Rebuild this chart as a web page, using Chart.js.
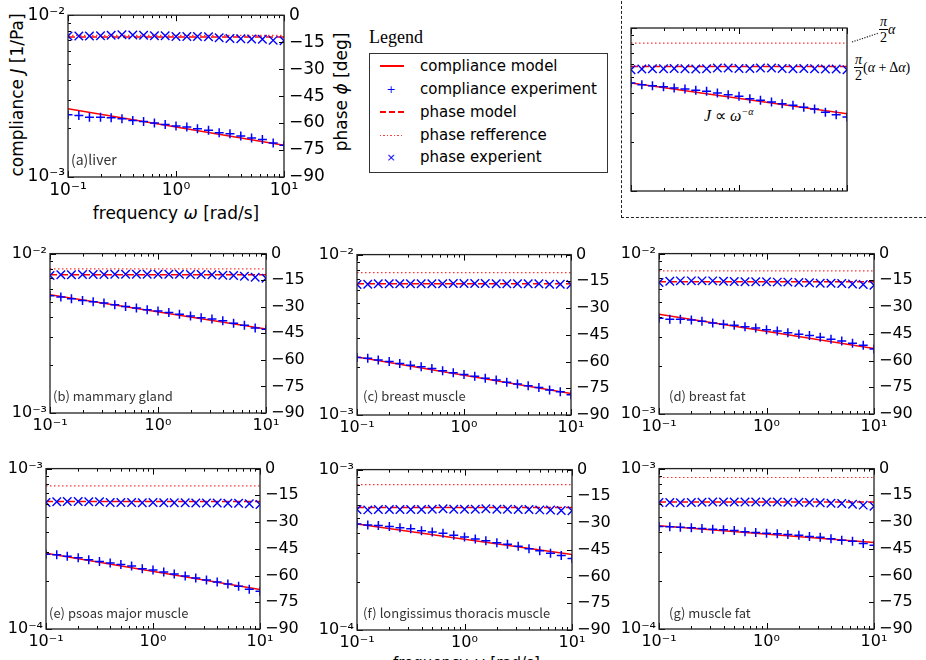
<!DOCTYPE html>
<html>
<head>
<meta charset="utf-8">
<title>compliance and phase of tissues</title>
<script src="https://cdn.jsdelivr.net/npm/chart.js@4.4.1/dist/chart.umd.min.js"></script>
<style>
  html, body { margin: 0; padding: 0; background: #fff; }
  body { position: relative; width: 926px; height: 660px; overflow: hidden; font-family: "DejaVu Sans", sans-serif; color: #000; }
  .panel { position: absolute; }
  .t { position: absolute; white-space: nowrap; line-height: 1; }
  .rot { transform: translate(-50%, -50%) rotate(-90deg); }
  .ctr { transform: translate(-50%, -50%); }
  .serif { font-family: "Liberation Serif", serif; }
  .frac { display: inline-block; vertical-align: middle; text-align: center; }
  .frac span { display: block; line-height: 1.1; }
  .frac .num { border-bottom: 1px solid #000; padding: 0 1px; }
  #box { position: absolute; left: 621px; top: -4px; width: 320px; height: 221px; border-left: 1.5px dashed #222; border-bottom: 1.5px dashed #222; }
  #legend { position: absolute; left: 369px; top: 53px; width: 239px; height: 120px; border: 1px solid #333; box-sizing: border-box; }
  .row { position: absolute; left: 0; height: 0; }
  .row .lbl { position: absolute; left: 50px; top: 0; transform: translateY(-50%); font-size: 15px; white-space: nowrap; line-height: 1; }
  .row .smp { position: absolute; left: 10px; width: 24px; }
  .row .mk { position: absolute; left: 21px; top: 0; transform: translate(-50%, -50%); color: #00f; font-size: 11px; line-height: 1; }
</style>
</head>
<body>

<!-- axis titles of (a) -->
<div class="t rot" style="left:17px; top:95px; font-size:17px;">compliance <i>J</i> [1/Pa]</div>
<div class="t rot" style="left:341px; top:92px; font-size:17px;">phase <i>ϕ</i> [deg]</div>
<div class="t ctr" style="left:176px; top:213px; font-size:17px;">frequency <i>ω</i> [rad/s]</div>
<div class="t" style="left:393px; top:656px; font-size:15px;">frequency <i>ω</i> [rad/s]</div>

<!-- legend -->
<div class="t serif" style="left:369px; top:28px; font-size:18px;">Legend</div>
<div id="legend">
  <div class="row" style="top:12px;"><div class="smp" style="top:-1px; height:1.6px; background:#ff0000;"></div><div class="lbl">compliance model</div></div>
  <div class="row" style="top:35px;"><div class="mk">+</div><div class="lbl">compliance experiment</div></div>
  <div class="row" style="top:58px;"><div class="smp" style="top:-1px; height:1.6px; background:repeating-linear-gradient(to right, #ff0000 0 6px, transparent 6px 9px);"></div><div class="lbl">phase model</div></div>
  <div class="row" style="top:81px;"><div class="smp" style="top:0; height:1px; background:repeating-linear-gradient(to right, #ff4040 0 1.5px, transparent 1.5px 3.5px);"></div><div class="lbl">phase refference</div></div>
  <div class="row" style="top:103px;"><div class="mk">×</div><div class="lbl">phase experient</div></div>
</div>

<!-- schematic inset frame and notes -->
<div id="box"></div>
<svg style="position:absolute; left:0; top:0;" width="926" height="660">
  <line x1="852" y1="42" x2="879" y2="33" stroke="#222" stroke-width="1.2" stroke-dasharray="1.2,1.4"/>
</svg>
<div class="t serif" style="left:879px; top:14px; font-size:14px;"><span class="frac"><span class="num"><i>π</i></span><span>2</span></span><i style="vertical-align:middle;">α</i></div>
<div class="t serif" style="left:854px; top:52px; font-size:14px;"><span class="frac"><span class="num"><i>π</i></span><span>2</span></span><span style="vertical-align:middle;">(<i>α</i> + Δ<i>α</i>)</span></div>
<div class="t serif" style="left:704px; top:107px; font-size:16px;"><i>J</i> ∝ <i>ω</i><sup style="font-size:10px;"><i>−α</i></sup></div>

<script>
// frequencies of the measurement [rad/s]
const FREQ = [0.1, 0.126, 0.158, 0.2, 0.251, 0.316, 0.398, 0.501, 0.631, 0.794, 1,
              1.26, 1.58, 2, 2.51, 3.16, 3.98, 5.01, 6.31, 7.94, 10];
const FREQ_RANGE = [0.1, 10];

// tick values
const FREQ_TICKS = [0.1, 0.2, 0.3, 0.4, 0.5, 0.6, 0.7, 0.8, 0.9, 1, 2, 3, 4, 5, 6, 7, 8, 9, 10];
const J_TICKS_HI = [0.001, 0.002, 0.003, 0.004, 0.005, 0.006, 0.007, 0.008, 0.009, 0.01];
const J_TICKS_LO = [0.0001, 0.0002, 0.0003, 0.0004, 0.0005, 0.0006, 0.0007, 0.0008, 0.0009, 0.001];
const PHASE_TICKS = [0, -15, -30, -45, -60, -75, -90];

// (a) liver
const liverModelJ = [2.638e-3, 1.572e-3];
const liverExpJ = [2.423e-3, 2.401e-3, 2.344e-3, 2.344e-3, 2.323e-3, 2.29e-3, 2.238e-3, 2.206e-3, 2.154e-3, 2.114e-3, 2.065e-3,
                   2.036e-3, 1.988e-3, 1.942e-3, 1.879e-3, 1.853e-3, 1.793e-3, 1.743e-3, 1.703e-3, 1.624e-3, 1.572e-3];
const liverModelPhase = -12.1;
const liverRefPhase = -11.2;
const liverExpPhase = [-11.6, -11.6, -11.6, -11.4, -11.2, -10.9, -11.0, -11.2, -11.4, -11.4, -11.8,
                       -11.8, -11.8, -12.0, -12.5, -12.9, -13.1, -13.3, -13.4, -14.0, -14.2];

// schematic inset
const schemModelJ = [4.599e-3, 2.980e-3];
const schemExpJ = [4.599e-3, 4.490e-3, 4.428e-3, 4.366e-3, 4.285e-3, 4.225e-3, 4.146e-3, 4.088e-3, 3.993e-3, 3.899e-3, 3.808e-3,
                   3.685e-3, 3.599e-3, 3.515e-3, 3.433e-3, 3.354e-3, 3.261e-3, 3.185e-3, 3.038e-3, 2.939e-3, 2.844e-3];
const schemModelPhase = -21.2;
const schemRefPhase = -8.3;
const schemExpPhase = [-23.0, -22.6, -22.5, -22.5, -22.3, -22.5, -22.6, -22.5, -22.1, -22.1, -22.3,
                       -22.3, -22.1, -22.1, -22.3, -22.5, -22.3, -22.5, -22.6, -22.6, -23.0];

// (b) mammary gland
const mammaryModelJ = [5.515e-3, 3.365e-3];
const mammaryExpJ = [5.436e-3, 5.333e-3, 5.207e-3, 5.084e-3, 4.988e-3, 4.893e-3, 4.777e-3, 4.664e-3, 4.553e-3, 4.445e-3, 4.361e-3,
                     4.278e-3, 4.157e-3, 4.058e-3, 3.962e-3, 3.886e-3, 3.794e-3, 3.652e-3, 3.548e-3, 3.414e-3, 3.350e-3];
const mammaryModelPhase = -12.0;
const mammaryRefPhase = -8.6;
const mammaryExpPhase = [-12.4, -12.0, -12.0, -11.8, -11.8, -11.8, -11.6, -11.6, -11.6, -11.6, -11.6,
                         -11.6, -11.6, -11.8, -11.8, -12.0, -12.2, -12.4, -12.8, -13.3, -13.9];

// (c) breast muscle
const bmuscleModelJ = [2.303e-3, 1.363e-3];
const bmuscleExpJ = [2.281e-3, 2.259e-3, 2.206e-3, 2.154e-3, 2.094e-3, 2.044e-3, 1.996e-3, 1.949e-3, 1.885e-3, 1.832e-3, 1.789e-3,
                     1.747e-3, 1.697e-3, 1.650e-3, 1.603e-3, 1.558e-3, 1.521e-3, 1.485e-3, 1.430e-3, 1.396e-3, 1.337e-3];
const bmuscleModelPhase = -16.4;
const bmuscleRefPhase = -10.1;
const bmuscleExpPhase = [-16.8, -16.6, -16.4, -16.4, -16.4, -16.4, -16.4, -16.4, -16.4, -16.2, -16.2,
                         -16.2, -16.2, -16.4, -16.4, -16.4, -16.4, -16.4, -16.6, -16.6, -16.8];

// (d) breast fat
const bfatModelJ = [4.180e-3, 2.557e-3];
const bfatExpJ = [3.948e-3, 3.892e-3, 3.892e-3, 3.855e-3, 3.782e-3, 3.693e-3, 3.622e-3, 3.571e-3, 3.503e-3, 3.437e-3, 3.356e-3,
                  3.293e-3, 3.216e-3, 3.140e-3, 3.081e-3, 3.008e-3, 2.923e-3, 2.854e-3, 2.761e-3, 2.683e-3, 2.545e-3];
const bfatModelPhase = -15.8;
const bfatRefPhase = -9.7;
const bfatExpPhase = [-16.2, -15.5, -15.3, -15.3, -15.3, -15.3, -15.5, -15.7, -15.8, -15.8, -15.8,
                      -16.0, -16.0, -16.2, -16.4, -16.6, -16.6, -16.8, -17.1, -17.3, -17.7];

// (e) psoas major muscle
const psoasModelJ = [2.972e-4, 1.761e-4];
const psoasExpJ = [2.929e-4, 2.901e-4, 2.846e-4, 2.780e-4, 2.701e-4, 2.638e-4, 2.576e-4, 2.527e-4, 2.468e-4, 2.376e-4, 2.331e-4,
                   2.265e-4, 2.202e-4, 2.140e-4, 2.080e-4, 2.021e-4, 1.964e-4, 1.909e-4, 1.846e-4, 1.769e-4, 1.719e-4];
const psoasModelPhase = -18.4;
const psoasRefPhase = -9.7;
const psoasExpPhase = [-19.0, -18.6, -18.4, -18.4, -18.6, -18.6, -19.0, -19.0, -19.0, -19.2, -19.0,
                       -19.2, -19.2, -19.2, -19.3, -19.3, -19.3, -19.5, -19.5, -19.7, -20.1];

// (f) longissimus thoracis muscle
const longisModelJ = [4.575e-4, 2.951e-4];
const longisExpJ = [4.575e-4, 4.510e-4, 4.489e-4, 4.426e-4, 4.342e-4, 4.281e-4, 4.160e-4, 4.081e-4, 4.004e-4, 3.892e-4, 3.800e-4,
                    3.693e-4, 3.606e-4, 3.503e-4, 3.421e-4, 3.324e-4, 3.216e-4, 3.125e-4, 3.008e-4, 2.909e-4, 2.787e-4];
const longisModelPhase = -21.2;
const longisRefPhase = -8.4;
const longisExpPhase = [-22.4, -22.6, -22.4, -22.4, -22.4, -22.4, -22.4, -22.2, -22.0, -22.2, -22.2,
                        -22.2, -22.0, -22.2, -22.2, -22.4, -22.4, -22.6, -22.7, -22.9, -23.1];

// (g) muscle fat
const mfatModelJ = [4.395e-4, 3.463e-4];
const mfatExpJ = [4.354e-4, 4.335e-4, 4.314e-4, 4.273e-4, 4.232e-4, 4.192e-4, 4.152e-4, 4.113e-4, 4.035e-4, 3.997e-4, 3.959e-4,
                  3.921e-4, 3.884e-4, 3.847e-4, 3.775e-4, 3.739e-4, 3.650e-4, 3.581e-4, 3.530e-4, 3.414e-4, 3.333e-4];
const mfatModelPhase = -18.7;
const mfatRefPhase = -5.0;
const mfatExpPhase = [-19.0, -19.0, -19.2, -19.0, -18.9, -18.7, -18.7, -18.7, -18.7, -18.7, -18.7,
                      -18.7, -18.9, -18.9, -19.0, -19.2, -19.4, -19.6, -20.0, -20.5, -21.1];

const PANELS = [
  { key: 'liver', label: '(a)liver', modelJ: liverModelJ, expJ: liverExpJ, modelPhase: liverModelPhase, refPhase: liverRefPhase, expPhase: liverExpPhase, jTicks: J_TICKS_HI },
  { key: 'schem', label: '', modelJ: schemModelJ, expJ: schemExpJ, modelPhase: schemModelPhase, refPhase: schemRefPhase, expPhase: schemExpPhase, jTicks: J_TICKS_HI },
  { key: 'mammary', label: '(b) mammary gland', modelJ: mammaryModelJ, expJ: mammaryExpJ, modelPhase: mammaryModelPhase, refPhase: mammaryRefPhase, expPhase: mammaryExpPhase, jTicks: J_TICKS_HI },
  { key: 'bmuscle', label: '(c) breast muscle', modelJ: bmuscleModelJ, expJ: bmuscleExpJ, modelPhase: bmuscleModelPhase, refPhase: bmuscleRefPhase, expPhase: bmuscleExpPhase, jTicks: J_TICKS_HI },
  { key: 'bfat', label: '(d) breast fat', modelJ: bfatModelJ, expJ: bfatExpJ, modelPhase: bfatModelPhase, refPhase: bfatRefPhase, expPhase: bfatExpPhase, jTicks: J_TICKS_HI },
  { key: 'psoas', label: '(e) psoas major muscle', modelJ: psoasModelJ, expJ: psoasExpJ, modelPhase: psoasModelPhase, refPhase: psoasRefPhase, expPhase: psoasExpPhase, jTicks: J_TICKS_LO },
  { key: 'longis', label: '(f) longissimus thoracis muscle', modelJ: longisModelJ, expJ: longisExpJ, modelPhase: longisModelPhase, refPhase: longisRefPhase, expPhase: longisExpPhase, jTicks: J_TICKS_LO },
  { key: 'mfat', label: '(g) muscle fat', modelJ: mfatModelJ, expJ: mfatExpJ, modelPhase: mfatModelPhase, refPhase: mfatRefPhase, expPhase: mfatExpPhase, jTicks: J_TICKS_LO }
];

// plot-area boxes on the page
const LAYOUT = {
  liver:   { x0: 68,  y0: 14,  x1: 284, y1: 177, font: 17, labs: true, lab: [3, 17, 14] },
  schem:   { x0: 631, y0: 28,  x1: 847, y1: 191, font: 16, labs: false },
  mammary: { x0: 50,  y0: 253, x1: 266, y1: 413, font: 16, labs: true, lab: [3, 17, 13] },
  bmuscle: { x0: 357, y0: 254, x1: 571, y1: 415, font: 16, labs: true, lab: [6, 19, 13] },
  bfat:    { x0: 659, y0: 253, x1: 874, y1: 414, font: 16, labs: true, lab: [10, 18, 13] },
  psoas:   { x0: 46,  y0: 468, x1: 260, y1: 629, font: 16, labs: true, lab: [3, 16, 13] },
  longis:  { x0: 357, y0: 469, x1: 572, y1: 630, font: 16, labs: true, lab: [6, 17, 13] },
  mfat:    { x0: 659, y0: 468, x1: 874, y1: 629, font: 16, labs: true, lab: [10, 16, 13] }
};

const RED = '#ff0000';
const BLUE = '#0000ff';
const PAD_L = 45, PAD_R = 45, PAD_T = 14, PAD_B = 28;

const isPow10 = v => Math.abs(Math.log10(v) - Math.round(Math.log10(v))) < 1e-6;
const SUP = { '-': '\u207B', '0': '\u2070', '1': '\u00B9', '2': '\u00B2', '3': '\u00B3', '4': '\u2074' };
const powLabel = v => isPow10(v) ? '10' + String(Math.round(Math.log10(v))).split('').map(c => SUP[c]).join('') : '';
const phaseLabel = v => v === 0 ? '0' : '\u2212' + Math.abs(v);

// inward tick marks and the axes frame
const frameTicks = {
  id: 'frameTicks',
  afterDatasetsDraw(chart, args, opts) {
    const { ctx, chartArea: a, scales } = chart;
    ctx.save();
    ctx.strokeStyle = '#000';
    ctx.lineWidth = 1;
    ctx.beginPath();
    scales.x.ticks.forEach(t => {
      const px = Math.round(scales.x.getPixelForValue(t.value)) + 0.5;
      const len = isPow10(t.value) ? 6 : 3;
      ctx.moveTo(px, a.bottom); ctx.lineTo(px, a.bottom - len);
      if (opts.top) { ctx.moveTo(px, a.top); ctx.lineTo(px, a.top + len); }
    });
    scales.y.ticks.forEach(t => {
      const py = Math.round(scales.y.getPixelForValue(t.value)) + 0.5;
      const len = isPow10(t.value) ? 6 : 3;
      ctx.moveTo(a.left, py); ctx.lineTo(a.left + len, py);
    });
    if (opts.right) {
      scales.y2.ticks.forEach(t => {
        const py = Math.round(scales.y2.getPixelForValue(t.value)) + 0.5;
        ctx.moveTo(a.right, py); ctx.lineTo(a.right - 5, py);
      });
    }
    ctx.stroke();
    ctx.strokeStyle = '#222';
    ctx.lineWidth = 1.3;
    ctx.strokeRect(a.left, a.top, a.right - a.left, a.bottom - a.top);
    ctx.restore();
  }
};

// tissue name in the lower left corner
const panelLabel = {
  id: 'panelLabel',
  afterDraw(chart, args, opts) {
    if (!opts.text) return;
    const { ctx, chartArea: a } = chart;
    ctx.save();
    ctx.font = opts.size + 'px "Noto Sans CJK JP", "Noto Sans", sans-serif';
    ctx.fillStyle = '#333';
    ctx.textAlign = 'left';
    ctx.textBaseline = 'middle';
    ctx.fillText(opts.text, a.left + opts.dx, a.bottom - opts.dy);
    ctx.restore();
  }
};

function makePanel(p) {
  const lay = LAYOUT[p.key];
  const holder = document.createElement('div');
  holder.className = 'panel';
  holder.style.left = (lay.x0 - PAD_L) + 'px';
  holder.style.top = (lay.y0 - PAD_T) + 'px';
  holder.style.width = (lay.x1 - lay.x0 + PAD_L + PAD_R) + 'px';
  holder.style.height = (lay.y1 - lay.y0 + PAD_T + PAD_B) + 'px';
  const cv = document.createElement('canvas');
  holder.appendChild(cv);
  document.body.appendChild(holder);

  const tickFont = { family: "'DejaVu Sans'", size: lay.font };

  const datasets = [
    { label: 'phase experient', yAxisID: 'y2', order: 1,
      data: FREQ.map((f, i) => ({ x: f, y: p.expPhase[i] })),
      showLine: false, pointStyle: 'crossRot', pointRadius: 6, borderColor: BLUE, borderWidth: 1.4, clip: 0 },
    { label: 'phase refference', yAxisID: 'y2', order: 2,
      data: FREQ_RANGE.map(f => ({ x: f, y: p.refPhase })),
      showLine: true, pointRadius: 0, borderColor: 'rgba(255,30,30,0.9)', borderWidth: 1.2, borderDash: [1.5, 2.5], clip: 0 },
    { label: 'phase model', yAxisID: 'y2', order: 3,
      data: FREQ_RANGE.map(f => ({ x: f, y: p.modelPhase })),
      showLine: true, pointRadius: 0, borderColor: RED, borderWidth: 1.5, borderDash: [7, 4], clip: 0 },
    { label: 'compliance experiment', yAxisID: 'y', order: 4,
      data: FREQ.map((f, i) => ({ x: f, y: p.expJ[i] })),
      showLine: false, pointStyle: 'cross', pointRadius: 4.5, borderColor: BLUE, borderWidth: 1.5, clip: 0 },
    { label: 'compliance model', yAxisID: 'y', order: 5,
      data: FREQ_RANGE.map((f, i) => ({ x: f, y: p.modelJ[i] })),
      showLine: true, pointRadius: 0, borderColor: RED, borderWidth: 1.5, clip: 0 }
  ];

  new Chart(cv, {
    type: 'scatter',
    data: { datasets },
    plugins: [frameTicks, panelLabel],
    options: {
      responsive: true,
      maintainAspectRatio: false,
      animation: false,
      events: [],
      layout: { padding: { top: PAD_T, left: 0, right: 0, bottom: 0 } },
      plugins: {
        legend: { display: false },
        tooltip: { enabled: false },
        frameTicks: { top: true, right: lay.labs },
        panelLabel: { text: p.label, dx: lay.lab ? lay.lab[0] : 0, dy: lay.lab ? lay.lab[1] : 0, size: lay.lab ? lay.lab[2] : 13 }
      },
      scales: {
        x: {
          type: 'logarithmic', position: 'bottom', min: FREQ_RANGE[0], max: FREQ_RANGE[1],
          grid: { display: false, drawTicks: false }, border: { display: false },
          afterBuildTicks: s => { s.ticks = FREQ_TICKS.map(v => ({ value: v })); },
          afterFit: s => { s.height = PAD_B; },
          ticks: { display: lay.labs, autoSkip: false, maxRotation: 0, padding: 3, color: '#000', font: tickFont, callback: v => powLabel(v) }
        },
        y: {
          type: 'logarithmic', position: 'left', min: p.jTicks[0], max: p.jTicks[p.jTicks.length - 1],
          grid: { display: false, drawTicks: false }, border: { display: false },
          afterBuildTicks: s => { s.ticks = p.jTicks.map(v => ({ value: v })); },
          afterFit: s => { s.width = PAD_L; },
          ticks: { display: lay.labs, autoSkip: false, padding: 3, color: '#000', font: tickFont, callback: v => powLabel(v) }
        },
        y2: {
          type: 'linear', position: 'right', min: -90, max: 0,
          grid: { display: false, drawTicks: false }, border: { display: false },
          afterBuildTicks: s => { s.ticks = PHASE_TICKS.map(v => ({ value: v })); },
          afterFit: s => { s.width = PAD_R; },
          ticks: { display: lay.labs, autoSkip: false, padding: 5, color: '#000', font: tickFont, callback: v => phaseLabel(v) }
        }
      }
    }
  });
}

PANELS.forEach(makePanel);
</script>
</body>
</html>
